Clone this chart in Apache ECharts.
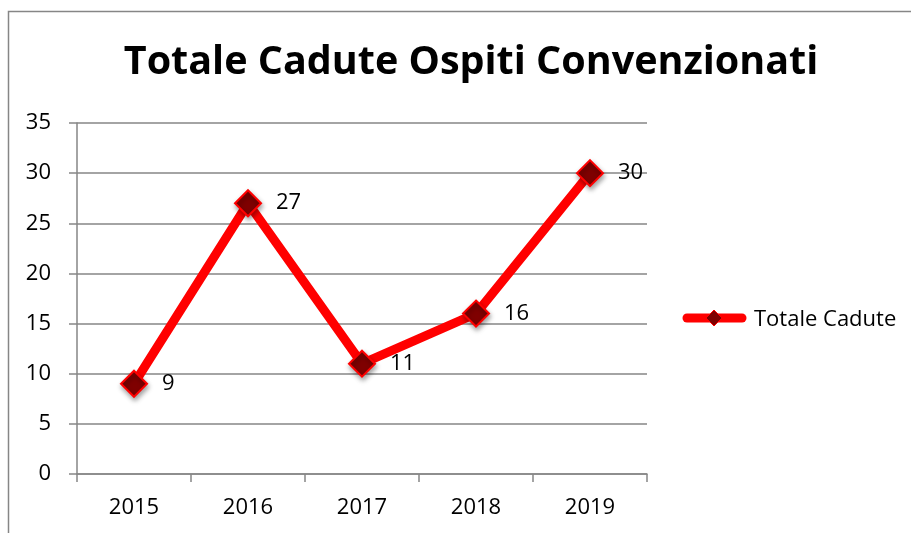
<!DOCTYPE html>
<html>
<head>
<meta charset="utf-8">
<script src="https://cdn.jsdelivr.net/npm/echarts@6/dist/echarts.min.js"></script>
<style>
html, body { margin: 0; padding: 0; background: #fff; }
#main { width: 911px; height: 533px; }
</style>
</head>
<body>
<div id="main"></div>
<script>
var anni = ['2015', '2016', '2017', '2018', '2019'];
var cadute = [9, 27, 11, 16, 30];
var yTicks = [0, 5, 10, 15, 20, 25, 30, 35];

var font = 'Open Sans';
var legendY = 318;
var myChart = echarts.init(document.getElementById('main'));

var option = {
    animation: false,
    backgroundColor: '#fff',
    title: {
        text: 'Totale Cadute Ospiti Convenzionati',
        left: 466,
        top: 38,
        textAlign: 'center',
        textStyle: { fontFamily: font, fontWeight: 'bold', fontSize: 39.5, color: '#000' }
    },
    // chart frame + legend marker (line with diamond)
    graphic: [{
        type: 'rect',
        shape: { x: 8.5, y: 11.5, width: 920, height: 540 },
        style: { fill: 'none', stroke: '#868686', lineWidth: 1.5 },
        silent: true
    }, {
        type: 'line',
        shape: { x1: 687, y1: legendY, x2: 742, y2: legendY },
        style: { stroke: '#ff0000', lineWidth: 9, lineCap: 'round' },
        silent: true
    }, {
        type: 'polygon',
        shape: { points: [[714, legendY - 8], [722, legendY], [714, legendY + 8], [706, legendY]] },
        style: { fill: '#7f0000', stroke: '#ff0000', lineWidth: 1 },
        silent: true
    }],
    legend: {
        left: 684,
        top: legendY - 15,
        itemWidth: 62,
        itemHeight: 24,
        itemGap: 0,
        textStyle: { fontFamily: font, fontSize: 22, color: '#000', padding: [0, 0, 0, -2] },
        data: [{ name: 'Totale Cadute', icon: 'none' }]
    },
    grid: { left: 77, right: 264, top: 123, bottom: 59 },
    xAxis: {
        type: 'category',
        data: anni,
        boundaryGap: true,
        axisLine: { lineStyle: { color: '#868686', width: 1.5 } },
        axisTick: { show: true, length: 8, lineStyle: { color: '#868686', width: 1.5 } },
        axisLabel: { fontFamily: font, fontSize: 22, color: '#000', margin: 23 }
    },
    yAxis: {
        type: 'value',
        min: 0,
        max: 35,
        interval: 5,
        axisLine: { show: true, lineStyle: { color: '#868686', width: 1.5 } },
        axisTick: { show: true, length: 8, lineStyle: { color: '#868686', width: 1.5 } },
        splitLine: { lineStyle: { color: '#868686', width: 1.5 } },
        axisLabel: {
            fontFamily: font, fontSize: 22, color: '#000', margin: 26,
            formatter: function (v) { return yTicks.indexOf(v) >= 0 ? String(v) : ''; }
        }
    },
    series: [{
        name: 'Totale Cadute',
        type: 'line',
        data: cadute,
        symbol: 'diamond',
        symbolSize: 26,
        lineStyle: { color: '#ff0000', width: 9 },
        itemStyle: {
            color: '#7f0000', borderColor: '#ff0000', borderWidth: 2,
            shadowColor: 'rgba(0,0,0,0.35)', shadowBlur: 5, shadowOffsetX: 1, shadowOffsetY: 3
        },
        label: {
            show: true,
            position: 'right',
            distance: 14,
            fontFamily: font,
            fontSize: 22,
            color: '#000'
        },
        z: 3
    }]
};
myChart.setOption(option);
</script>
</body>
</html>
